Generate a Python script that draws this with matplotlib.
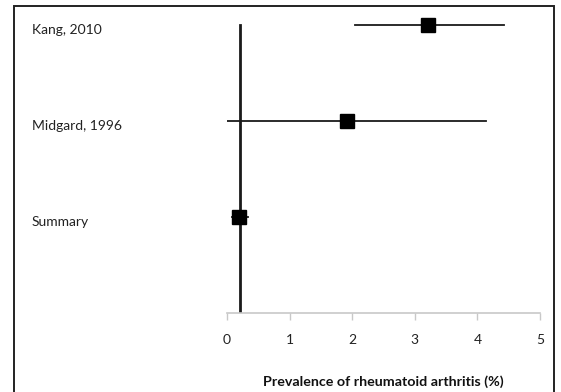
import matplotlib
matplotlib.use('Agg')
import matplotlib.pyplot as plt
import matplotlib.transforms as mtransforms
from matplotlib.patches import Rectangle

# study rows (top to bottom)
studies = ['Kang, 2010', 'Midgard, 1996', 'Summary']
rows = [3, 2, 1]
prev = [3.21, 1.92, 0.19]
ci_lo = [2.05, -0.03, 0.08]
ci_hi = [4.42, 4.14, 0.34]
ref_line = 0.21
xticks = [0, 1, 2, 3, 4, 5]

plt.rcParams['font.family'] = ['Lato', 'DejaVu Sans']

fig = plt.figure(figsize=(5.61, 3.92), dpi=100)
ax = fig.add_axes([227/561, 79/392, 313/561, 307/392])

# vertical reference line
ax.plot([ref_line, ref_line], [0, rows[0]], color='#1a1a1a', lw=2.0, zorder=2)

for r, p, lo, hi in zip(rows, prev, ci_lo, ci_hi):
    ax.plot([lo, hi], [r, r], color='#1a1a1a', lw=1.3, zorder=3)
    ax.plot(p, r, marker='s', color='black', markersize=9.5, zorder=4)

ax.set_xlim(0, 5)
ax.set_ylim(0, 3.2)
ax.set_xticks(xticks)
ax.set_xticklabels([str(t) for t in xticks], fontsize=10, color='#222222')
ax.set_yticks([])
for s in ['top', 'right', 'left']:
    ax.spines[s].set_visible(False)
ax.spines['bottom'].set_color('#c8c8c8')
ax.spines['bottom'].set_linewidth(1.2)
ax.tick_params(axis='x', direction='out', length=5, width=1, color='#c8c8c8', pad=10)
ax.set_xlabel('Prevalence of rheumatoid arthritis (%)', fontsize=10.3, fontweight='bold',
              labelpad=21, color='#111111')

# study labels at the left of the figure
trans = mtransforms.blended_transform_factory(fig.transFigure, ax.transData)
for name, r in zip(studies, rows):
    ax.text(32/561, r - 0.05, name, transform=trans, ha='left', va='center',
            fontsize=10, color='#222222')

# outer border
fig.patches.append(Rectangle((14/561, -0.05), 540/561, 1.05 - 6/392,
                             transform=fig.transFigure, fill=False,
                             edgecolor='#222222', lw=1.4))

fig.savefig('out.png', dpi=100)
